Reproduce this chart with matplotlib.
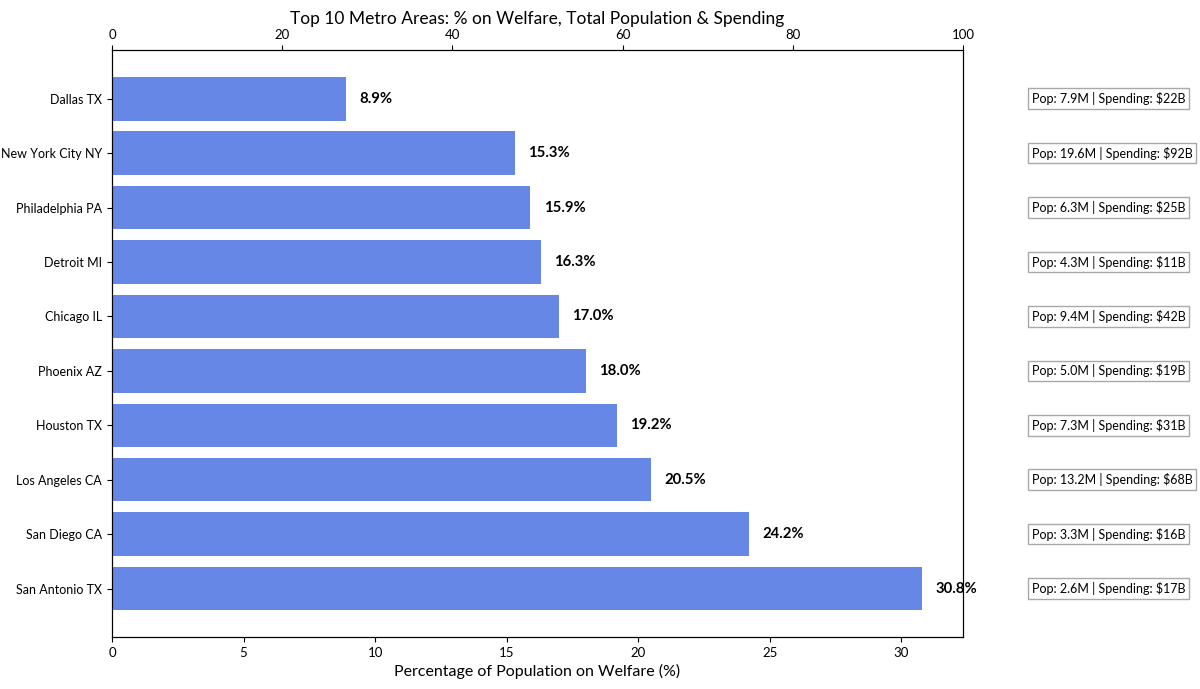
import matplotlib
matplotlib.use('Agg')
import matplotlib.pyplot as plt

plt.rcParams['font.family'] = ['Lato', 'DejaVu Sans']

cities = ['San Antonio TX', 'San Diego CA', 'Los Angeles CA', 'Houston TX', 'Phoenix AZ',
          'Chicago IL', 'Detroit MI', 'Philadelphia PA', 'New York City NY', 'Dallas TX']
welfare_pct = [30.8, 24.2, 20.5, 19.2, 18.0, 17.0, 16.3, 15.9, 15.3, 8.9]
population_m = [2.6, 3.3, 13.2, 7.3, 5.0, 9.4, 4.3, 6.3, 19.6, 7.9]
spending_b = [17, 16, 68, 31, 19, 42, 11, 25, 92, 22]

fig, ax = plt.subplots(figsize=(12, 6.89), dpi=100)
fig.subplots_adjust(left=0.0933, right=0.8025, top=0.927, bottom=0.0755)

ypos = range(len(cities))
ax.barh(ypos, welfare_pct, color='royalblue', alpha=0.8, height=0.8)
ax.set_yticks(list(ypos))
ax.set_yticklabels(cities, fontsize=9)
ax.set_xlim(0, max(welfare_pct) * 1.05)
ax.set_xlabel('Percentage of Population on Welfare (%)', fontsize=11.5)
ax.tick_params(axis='x', labelsize=9.5)

for i, v in enumerate(welfare_pct):
    ax.text(v + 0.5, i, f'{v:.1f}%', va='center', fontsize=10.7, fontweight='bold')
    ax.text(max(welfare_pct) * 1.135, i, f'Pop: {population_m[i]:.1f}M | Spending: ${spending_b[i]}B',
            va='center', fontsize=9,
            bbox=dict(boxstyle='square,pad=0.3', facecolor='white', edgecolor='darkgray'))

ax2 = ax.twiny()
ax2.set_xlim(0, 100)
ax2.tick_params(axis='x', labelsize=9.5)
ax2.set_title('Top 10 Metro Areas: % on Welfare, Total Population & Spending', fontsize=12.5, pad=3)

fig.savefig('out.png')
